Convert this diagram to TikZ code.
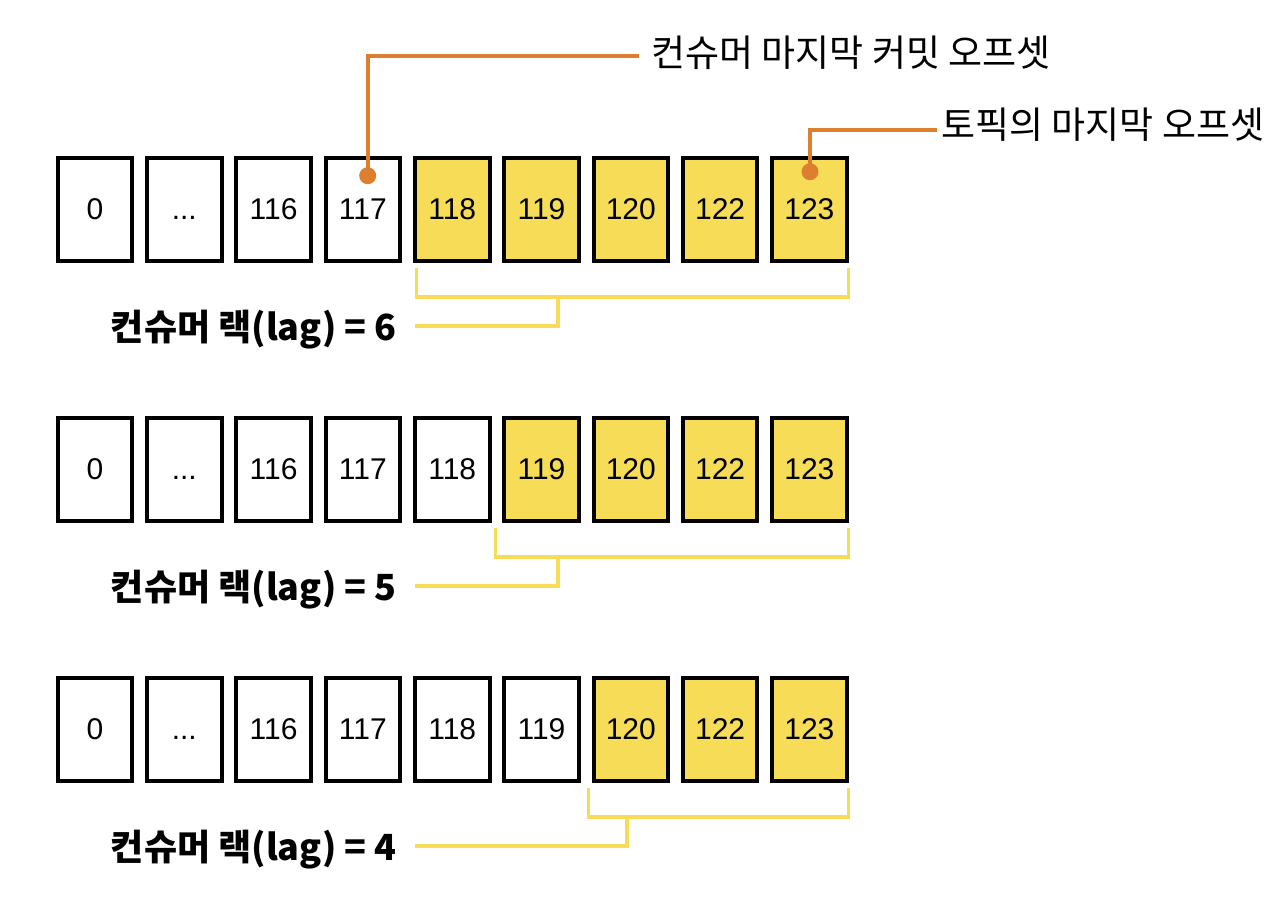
\documentclass[tikz,border=0pt]{standalone}
\usepackage{fontspec}
\setmainfont{Liberation Sans}
\newfontfamily\kr{Noto Sans CJK KR}
\usetikzlibrary{calc}
\definecolor{boxyellow}{HTML}{F6DC57}
\definecolor{lineyellow}{HTML}{F6DC57}
\definecolor{orangeline}{HTML}{DD7F2E}
\newcommand\mydots{\vphantom{0}\mbox{.}\mbox{.}\mbox{.}}
\tikzset{
 cell/.style={draw=black, line width=4pt, minimum width=74.6pt, minimum height=103pt, inner sep=0pt, font=\fontsize{30}{32}\selectfont, fill=white},
 hot/.style={cell, fill=boxyellow},
 brk/.style={draw=lineyellow, line width=3.5pt},
 pointer/.style={draw=orangeline, line width=4pt},
 pdot/.style={circle, fill=orangeline, inner sep=0pt, minimum size=17pt},
 lag/.style={font=\kr\bfseries\fontsize{36}{38}\selectfont, anchor=east, inner xsep=18pt, inner ysep=0pt},
 note/.style={font=\kr\fontsize{37}{39}\selectfont, anchor=west, inner xsep=12pt, inner ysep=0pt},
}
\begin{document}
\begin{tikzpicture}[x=1pt,y=-1pt]
\useasboundingbox (0,0) rectangle (1288,907);
\foreach \r/\y/\k in {1/209.5/4,2/469.5/5,3/729.5/6}{
  \foreach \lab [count=\i] in {0,\mydots,116,117,118,119,120,122,123}{
    \pgfmathsetmacro\xx{95+(\i-1)*89.3}
    \ifnum\i>\k
      \node[hot] (r\r c\i) at (\xx,\y) {\lab};
    \else
      \node[cell] (r\r c\i) at (\xx,\y) {\lab};
    \fi
  }
}
\foreach \r/\L/\S/\n in {1/416.5/558/6, 2/495.5/558/5, 3/588.5/627/4}{
  \pgfmathsetmacro\dy{(\r-1)*260}
  \coordinate (bl\r) at (\L, 268+\dy);
  \coordinate (br\r) at (848.5, 268+\dy);
  \coordinate (bs\r) at (\S, 297+\dy);
  \node[lag] (lag\r) at (415, 329.5+\dy) {컨슈머 랙(lag) = \n};
  \draw[brk] (bl\r) |- (br\r |- bs\r) -- (br\r);
  \draw[brk] (bs\r) |- ([yshift=3.5pt]lag\r.east);
}
\node[pdot] (d1) at (367.7,175.7) {};
\node[note] (n1) at (639,53) {컨슈머 마지막 커밋 오프셋};
\draw[pointer] (d1.center) |- ([yshift=-3pt]n1.west);
\node[pdot] (d2) at (810,171.7) {};
\node[note, inner xsep=4pt] (n2) at (937,124.5) {토픽의 마지막 오프셋};
\draw[pointer] (d2.center) |- ([yshift=-5.5pt]n2.west);
\end{tikzpicture}
\end{document}
